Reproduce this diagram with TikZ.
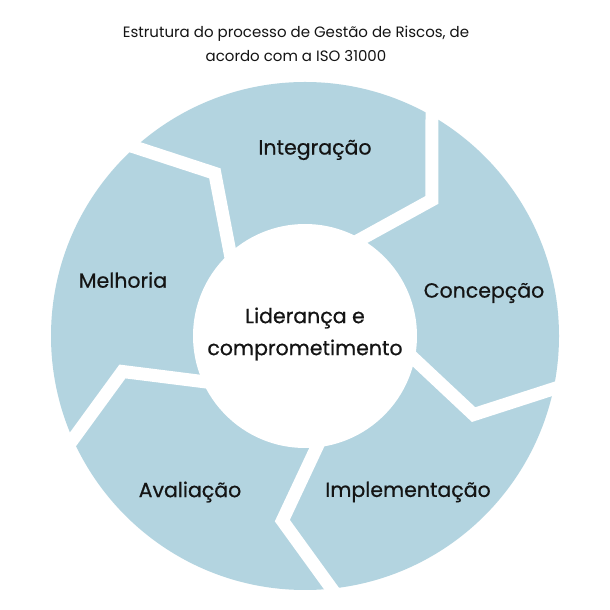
\documentclass[tikz,border=0pt]{standalone}
\usepackage{fontspec}
\setmainfont{Poppins}
\newfontfamily\lblfont[FakeBold=0.6]{Poppins}
\usetikzlibrary{calc}
\definecolor{ringblue}{RGB}{179,212,224}
\definecolor{ink}{RGB}{20,20,20}
\begin{document}
\begin{tikzpicture}[x=1pt,y=1pt,
  gapline/.style={draw=white,line width=13pt,line join=miter,miter limit=20},
  lbl/.style={font=\lblfont\fontsize{20.5}{32}\selectfont,text=ink,align=center,inner sep=0pt},
  titlestyle/.style={font=\fontsize{15}{24}\selectfont,text=ink,align=center,inner sep=0pt}]
\fill[white] (0,0) rectangle (610,610);
\useasboundingbox (0,0) rectangle (610,610);
\coordinate (C) at (305,274);
\fill[ringblue] (C) circle (254pt);
\foreach \a in {60,-12,-84,-156,132} {
  \coordinate (I) at ($(C)+(\a:112pt)$);
  \coordinate (B) at ($(C)+(\a-13:186pt)$);
  \coordinate (O) at ($(C)+(\a:254pt)$);
  \draw[gapline] ($(B)!1.6!(I)$) -- (B) -- ($(B)!1.4!(O)$);
}
\fill[white] (C) circle (112pt);
\node[titlestyle] (title) at (296,566) {Estrutura do processo de Gestão de Riscos, de\\acordo com a ISO 31000};
\node[lbl] (integ) at (315,460) {Integração};
\node[lbl] (concep) at (484,317) {Concepção};
\node[lbl] (implem) at (408,118) {Implementação};
\node[lbl] (aval) at (190,118) {Avaliação};
\node[lbl] (melh) at (123,330) {Melhoria};
\node[lbl] (center) at (305,276) {Liderança e\\comprometimento};
\end{tikzpicture}
\end{document}
